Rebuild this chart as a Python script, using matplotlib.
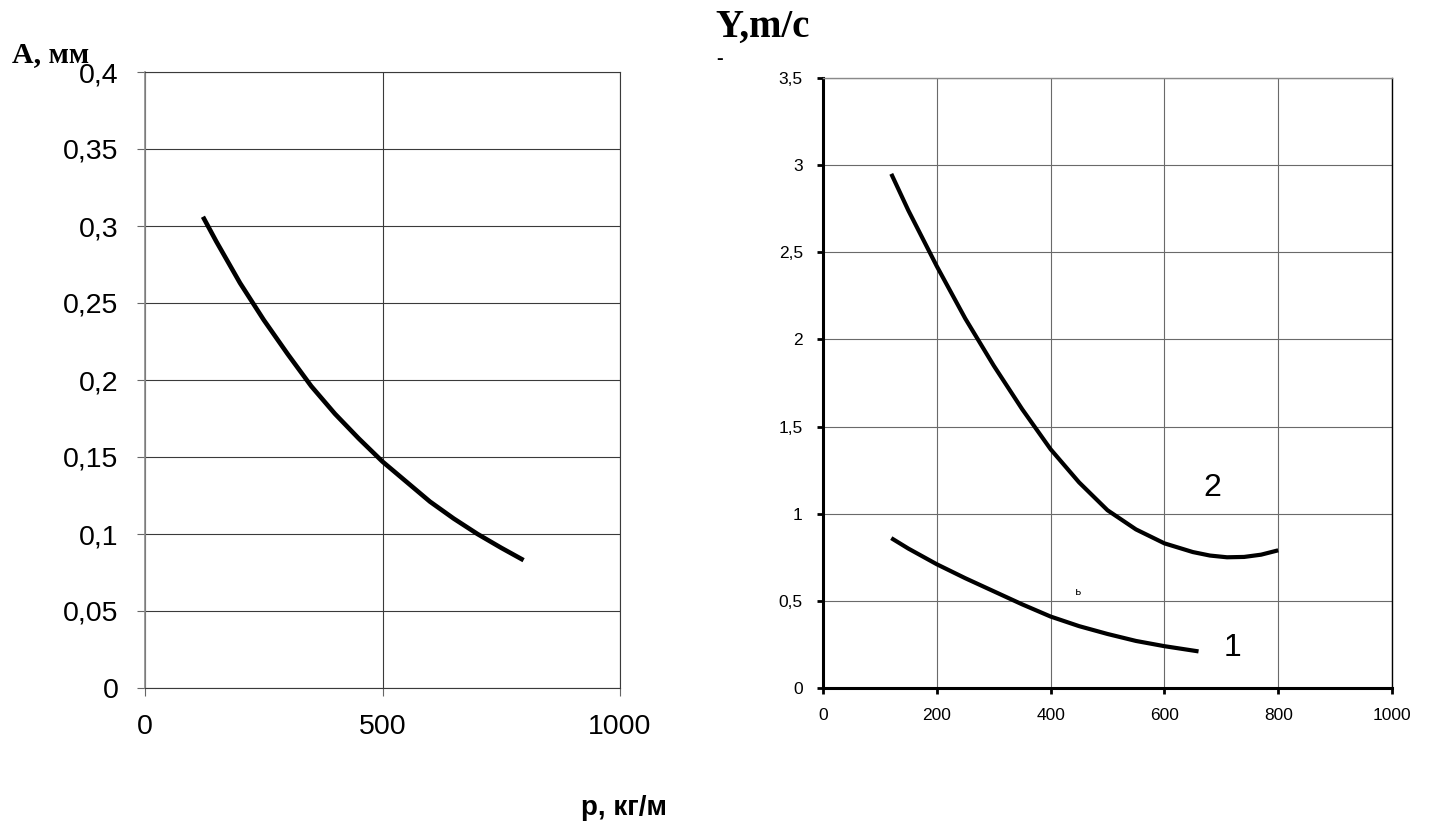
import matplotlib
matplotlib.use("Agg")
import matplotlib.pyplot as plt

# ---- data ----
left_x = [122, 150, 200, 250, 300, 350, 400, 450, 500, 550, 600, 650, 700, 750, 797]
left_A = [0.306, 0.290, 0.263, 0.239, 0.217, 0.196, 0.178, 0.162, 0.147,
          0.134, 0.121, 0.110, 0.100, 0.091, 0.083]

right_x2 = [120, 150, 200, 250, 300, 350, 400, 450, 500, 550, 600, 650, 680,
            710, 740, 770, 800]
right_y2 = [2.95, 2.74, 2.42, 2.12, 1.85, 1.60, 1.37, 1.18, 1.02, 0.91, 0.83,
            0.78, 0.76, 0.75, 0.752, 0.765, 0.79]

right_x1 = [120, 150, 200, 250, 300, 350, 400, 450, 500, 550, 600, 660]
right_y1 = [0.86, 0.80, 0.71, 0.63, 0.555, 0.48, 0.41, 0.355, 0.31, 0.27, 0.24, 0.21]

left_xticks = [0, 500, 1000]
left_yticks = [0, 0.05, 0.1, 0.15, 0.2, 0.25, 0.3, 0.35, 0.4]
right_xticks = [0, 200, 400, 600, 800, 1000]
right_yticks = [0, 0.5, 1, 1.5, 2, 2.5, 3, 3.5]


def comma(v):
    return ("%g" % v).replace(".", ",")


plt.rcParams['font.family'] = ['Liberation Sans', 'DejaVu Sans']

W, H = 1432, 827
fig = plt.figure(figsize=(W / 100, H / 100), dpi=100)


def px_axes(l, t, r, b):
    return fig.add_axes([l / W, 1 - b / H, (r - l) / W, (b - t) / H])


# ---- left chart ----
ax1 = px_axes(145, 72, 620, 688)
ax1.plot(left_x, left_A, color='black', lw=3.3, solid_capstyle='butt',
         solid_joinstyle='round')
ax1.set_xlim(0, 1000)
ax1.set_ylim(0, 0.4)
ax1.set_xticks(left_xticks)
ax1.set_yticks(left_yticks)
ax1.set_xticklabels([comma(v) for v in left_xticks])
ax1.set_yticklabels([comma(v) for v in left_yticks])
ax1.grid(True, color='#3a3a3a', lw=0.8)
for s in ['top', 'right', 'bottom']:
    ax1.spines[s].set_color('#3a3a3a')
    ax1.spines[s].set_linewidth(0.8)
ax1.spines['left'].set_color('#8a8a8a')
ax1.spines['left'].set_linewidth(1.2)
ax1.tick_params(axis='both', direction='out', length=6, width=0.8,
                color='#666666', labelsize=20.5, pad=13)
ax1.set_axisbelow(True)

# ---- right chart ----
ax2 = px_axes(823, 78, 1392, 688)
ax2.plot(right_x2, right_y2, color='black', lw=3.0, solid_capstyle='butt',
         solid_joinstyle='round')
ax2.plot(right_x1, right_y1, color='black', lw=3.0, solid_capstyle='butt',
         solid_joinstyle='round')
ax2.set_xlim(0, 1000)
ax2.set_ylim(0, 3.5)
ax2.set_xticks(right_xticks)
ax2.set_yticks(right_yticks)
ax2.set_xticklabels([comma(v) for v in right_xticks])
ax2.set_yticklabels([comma(v) for v in right_yticks])
ax2.grid(True, color='#6a6a6a', lw=0.8)
ax2.spines['top'].set_color('#8a8a8a')
ax2.spines['top'].set_linewidth(1.0)
ax2.spines['right'].set_color('black')
ax2.spines['right'].set_linewidth(1.0)
ax2.spines['left'].set_color('black')
ax2.spines['left'].set_linewidth(2.2)
ax2.spines['bottom'].set_color('black')
ax2.spines['bottom'].set_linewidth(2.2)
ax2.tick_params(axis='both', direction='out', length=4.5, width=2,
                color='black', labelsize=12.5, pad=10)
ax2.set_axisbelow(True)

ax2.text(719, 0.23, "1", fontsize=23, ha='center', va='center',
         bbox=dict(facecolor='white', edgecolor='none', pad=10), zorder=5)
ax2.text(684, 1.15, "2", fontsize=23, ha='center', va='center', zorder=5)
ax2.text(449, 0.55, "ь", fontsize=8, ha='center', va='center',
         family=['Liberation Mono', 'DejaVu Sans Mono'], zorder=5)

# ---- axis titles as free text ----
fig.text(12 / W, 1 - 62 / H, "A, мм", fontsize=21.5, fontweight='bold',
         family=['Liberation Serif', 'DejaVu Serif'], ha='left', va='baseline')
fig.text(715 / W, 1 - 37 / H, "Y,m/c", fontsize=28, fontweight='bold',
         family=['Liberation Serif', 'DejaVu Serif'], ha='left', va='baseline')
fig.text(720 / W, 1 - 60 / H, "-", fontsize=14, fontweight='bold',
         family=['Liberation Serif', 'DejaVu Serif'], ha='center', va='center')
fig.text(624 / W, 1 - 808 / H, "р, кг/м", fontsize=20, fontweight='bold',
         ha='center', va='center')

fig.savefig("out.png", dpi=100)
